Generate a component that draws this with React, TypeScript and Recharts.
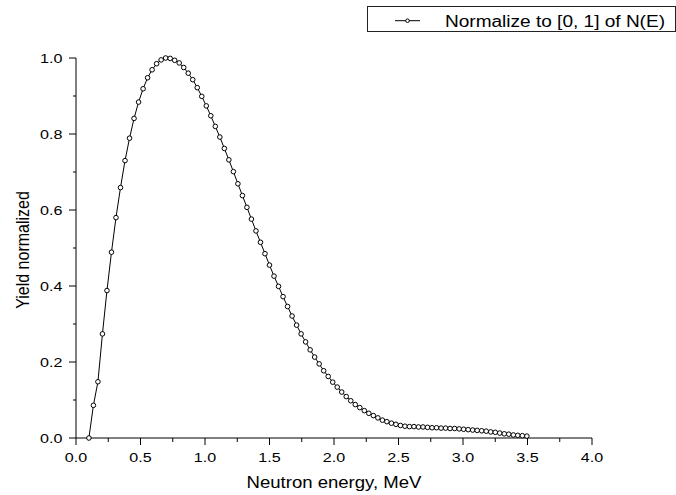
import { Label, Line, LineChart, XAxis, YAxis } from 'recharts'

const FONT = '"Liberation Sans", Arial, sans-serif'

const seriesName = 'Normalize to [0, 1] of N(E)'
const xTitle = 'Neutron energy, MeV'
const yTitle = 'Yield normalized'

// neutron energy, MeV
const energies = [
  0.100, 0.135, 0.170, 0.205, 0.240, 0.275, 0.310, 0.345, 0.380, 0.415,
  0.450, 0.485, 0.520, 0.555, 0.590, 0.625, 0.660, 0.695, 0.730, 0.765,
  0.800, 0.835, 0.870, 0.905, 0.940, 0.975, 1.010, 1.045, 1.080, 1.115,
  1.150, 1.185, 1.220, 1.255, 1.290, 1.325, 1.360, 1.395, 1.430, 1.465,
  1.500, 1.535, 1.570, 1.605, 1.640, 1.675, 1.710, 1.745, 1.780, 1.815,
  1.850, 1.885, 1.920, 1.955, 1.990, 2.025, 2.060, 2.095, 2.130, 2.165,
  2.200, 2.235, 2.270, 2.305, 2.340, 2.375, 2.410, 2.445, 2.480, 2.515,
  2.550, 2.585, 2.620, 2.655, 2.690, 2.725, 2.760, 2.795, 2.830, 2.865,
  2.900, 2.935, 2.970, 3.005, 3.040, 3.075, 3.110, 3.145, 3.180, 3.215,
  3.250, 3.285, 3.320, 3.355, 3.390, 3.425, 3.460, 3.495,
]

// normalized yield
const yields = [
  0.000, 0.086, 0.148, 0.274, 0.388, 0.489, 0.580, 0.659, 0.730, 0.789,
  0.841, 0.884, 0.919, 0.948, 0.969, 0.985, 0.995, 1.000, 0.999, 0.994,
  0.987, 0.975, 0.960, 0.943, 0.922, 0.899, 0.874, 0.848, 0.820, 0.792,
  0.762, 0.732, 0.701, 0.669, 0.638, 0.607, 0.576, 0.545, 0.515, 0.485,
  0.455, 0.426, 0.399, 0.372, 0.346, 0.321, 0.297, 0.274, 0.253, 0.232,
  0.213, 0.195, 0.177, 0.162, 0.147, 0.134, 0.121, 0.109, 0.098, 0.088,
  0.080, 0.072, 0.065, 0.059, 0.053, 0.047, 0.043, 0.039, 0.036, 0.033,
  0.031, 0.030, 0.030, 0.029, 0.029, 0.028, 0.027, 0.027, 0.026, 0.026,
  0.025, 0.025, 0.024, 0.023, 0.022, 0.021, 0.020, 0.019, 0.018, 0.016,
  0.015, 0.013, 0.011, 0.010, 0.008, 0.007, 0.006, 0.005,
]

const xTicks = [0, 0.25, 0.5, 0.75, 1, 1.25, 1.5, 1.75, 2, 2.25, 2.5, 2.75, 3, 3.25, 3.5, 3.75, 4]
const yTicks = [0, 0.1, 0.2, 0.3, 0.4, 0.5, 0.6, 0.7, 0.8, 0.9, 1]

const data = energies.map((e, i) => ({ energy: e, yieldN: yields[i] }))

const XTick = (props: any) => {
  const { x, y, payload } = props
  const v = payload.value as number
  const major = Math.round(v * 100) % 50 === 0
  return (
    <g>
      <line x1={x} x2={x} y1={y} y2={y + (major ? 7 : 4)} stroke="#000" strokeWidth={1} />
      {major && (
        <text
          transform={`translate(${x},${y + 24.3}) scale(1.24,1)`}
          textAnchor="middle"
          fontSize={13}
          fontFamily={FONT}
          fill="#000"
        >
          {v.toFixed(1)}
        </text>
      )}
    </g>
  )
}

const YTick = (props: any) => {
  const { x, y, payload } = props
  const v = payload.value as number
  const major = Math.round(v * 10) % 2 === 0
  return (
    <g>
      <line x1={x - (major ? 7 : 3)} x2={x} y1={y} y2={y} stroke="#000" strokeWidth={1} />
      {major && (
        <text
          transform={`translate(${x - 13.5},${y + 4.5}) scale(1.24,1)`}
          textAnchor="end"
          fontSize={13}
          fontFamily={FONT}
          fill="#000"
        >
          {v.toFixed(1)}
        </text>
      )}
    </g>
  )
}

const XTitle = (props: any) => {
  const vb = props.viewBox
  return (
    <text
      transform={`translate(${vb.x + vb.width / 2},${vb.y + 50}) scale(1.16,1)`}
      textAnchor="middle"
      fontSize={16}
      fontFamily={FONT}
      fill="#000"
    >
      {xTitle}
    </text>
  )
}

const YTitle = (props: any) => {
  const vb = props.viewBox
  return (
    <text
      transform={`translate(29,${vb.y + vb.height / 2 + 2}) rotate(-90) scale(1,1.15)`}
      textAnchor="middle"
      fontSize={16}
      fontFamily={FONT}
      fill="#000"
    >
      {yTitle}
    </text>
  )
}

const LegendBox = () => (
  <svg width={309} height={27} style={{ position: 'absolute', left: 367, top: 6 }}>
    <rect x={0.5} y={0.5} width={308} height={25} fill="#fff" stroke="#222" strokeWidth={1} />
    <line x1={28} x2={53} y1={14.7} y2={14.7} stroke="#000" strokeWidth={1} />
    <circle cx={40.5} cy={14.7} r={1.8} fill="#fff" stroke="#000" strokeWidth={1} />
    <text transform="translate(78,20.7) scale(1.19,1)" fontSize={16} fontFamily={FONT} fill="#000">
      {seriesName}
    </text>
  </svg>
)

export default function App() {
  return (
    <div style={{ position: 'relative', width: 676, height: 495, background: '#fff' }}>
      <style>{'body{margin:0}'}</style>
      <LineChart width={676} height={495} data={data} margin={{ top: 58, right: 84, bottom: 0, left: 0 }}>
        <XAxis
          dataKey="energy"
          type="number"
          domain={[0, 4]}
          ticks={xTicks}
          interval={0}
          height={57}
          tickSize={0}
          tickMargin={0}
          tickLine={false}
          axisLine={{ stroke: '#000', strokeWidth: 1 }}
          tick={<XTick />}
        >
          <Label content={<XTitle />} />
        </XAxis>
        <YAxis
          type="number"
          domain={[0, 1]}
          ticks={yTicks}
          interval={0}
          width={76}
          tickSize={0}
          tickMargin={0}
          tickLine={false}
          axisLine={{ stroke: '#000', strokeWidth: 1 }}
          tick={<YTick />}
        >
          <Label content={<YTitle />} />
        </YAxis>
        <Line
          type="linear"
          dataKey="yieldN"
          name={seriesName}
          stroke="#000"
          strokeWidth={1}
          dot={{ r: 2.3, stroke: '#000', strokeWidth: 1, fill: '#fff' }}
          activeDot={false}
          isAnimationActive={false}
        />
      </LineChart>
      <LegendBox />
    </div>
  )
}
